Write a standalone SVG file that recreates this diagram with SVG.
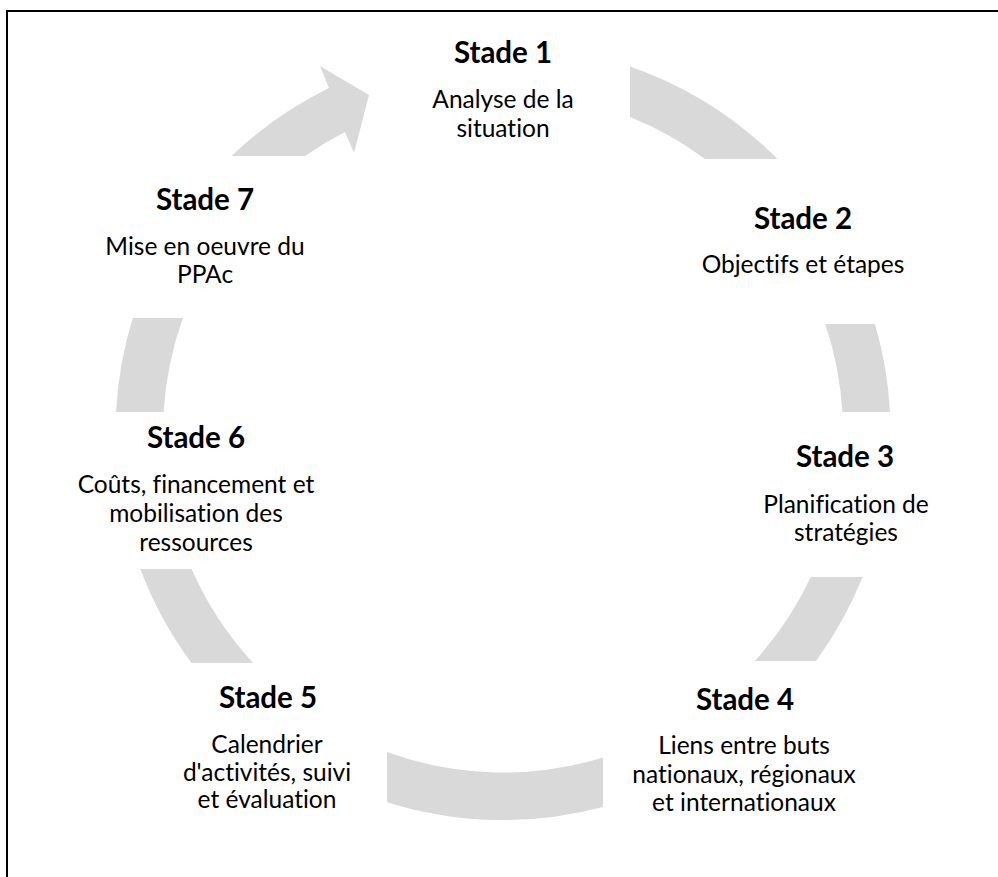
<svg xmlns="http://www.w3.org/2000/svg" width="998" height="877" viewBox="0 0 998 877">
<style>
.seg{fill:#d9d9d9;stroke:none}
.t{font-family:Lato,"Open Sans","Liberation Sans",sans-serif;fill:#000;text-anchor:middle;font-variant-ligatures:none}
.h{font-size:29.5px;font-weight:bold}
.b{font-size:24.5px}
</style>
<rect x="0" y="0" width="998" height="877" fill="#fff"/>
<rect x="7" y="11" width="1100" height="1000" fill="none" stroke="#000" stroke-width="2"/>
<g id="connectors">
<path class="seg" d="M630,66.4 A387.5,387.5 0 0 1 777.5,159 L705,159 A340,340 0 0 0 630,117.1 Z"/>
<path class="seg" d="M875,324 A387.5,387.5 0 0 1 890,412 L842.4,412 A340,340 0 0 0 825.2,324 Z"/>
<path class="seg" d="M862.6,577 A387.5,387.5 0 0 1 816,661 L754.8,661 A340,340 0 0 0 810.8,577 Z"/>
<path class="seg" d="M603,806.9 A387.5,387.5 0 0 1 387,802.2 L387,752.1 A340,340 0 0 0 603,757.5 Z"/>
<path class="seg" d="M191.5,663 A387.5,387.5 0 0 1 140.3,569 L191.6,569 A340,340 0 0 0 253.1,663 Z"/>
<path class="seg" d="M116,412 A387.5,387.5 0 0 1 132.8,318 L182.9,318 A340,340 0 0 0 163.6,412 Z"/>
<path class="seg" d="M231.5,156 A387.5,387.5 0 0 1 329,88 L320,66 L369,95 L354,153 L345,132 A340,340 0 0 0 305.1,156 Z"/>
</g>
<g id="stade1" class="t">
<text class="h" x="503" y="63">Stade 1</text>
<text class="b" x="503" y="108">Analyse de la</text>
<text class="b" x="503" y="137">situation</text>
</g>
<g id="stade2" class="t">
<text class="h" x="803" y="229">Stade 2</text>
<text class="b" x="803" y="273">Objectifs et étapes</text>
</g>
<g id="stade3" class="t">
<text class="h" x="845" y="467">Stade 3</text>
<text class="b" x="846" y="513">Planification de</text>
<text class="b" x="846" y="541">stratégies</text>
</g>
<g id="stade4" class="t">
<text class="h" x="745" y="710">Stade 4</text>
<text class="b" x="744" y="754">Liens entre buts</text>
<text class="b" x="744" y="783">nationaux, régionaux</text>
<text class="b" x="744" y="811">et internationaux</text>
</g>
<g id="stade5" class="t">
<text class="h" x="268" y="708">Stade 5</text>
<text class="b" x="267" y="753">Calendrier</text>
<text class="b" x="267" y="781">d'activités, suivi</text>
<text class="b" x="267" y="808">et évaluation</text>
</g>
<g id="stade6" class="t">
<text class="h" x="196" y="448">Stade 6</text>
<text class="b" x="196" y="493">Coûts, financement et</text>
<text class="b" x="196" y="522">mobilisation des</text>
<text class="b" x="196" y="551">ressources</text>
</g>
<g id="stade7" class="t">
<text class="h" x="205" y="210">Stade 7</text>
<text class="b" x="205" y="255">Mise en oeuvre du</text>
<text class="b" x="205" y="283">PPAc</text>
</g>
</svg>
